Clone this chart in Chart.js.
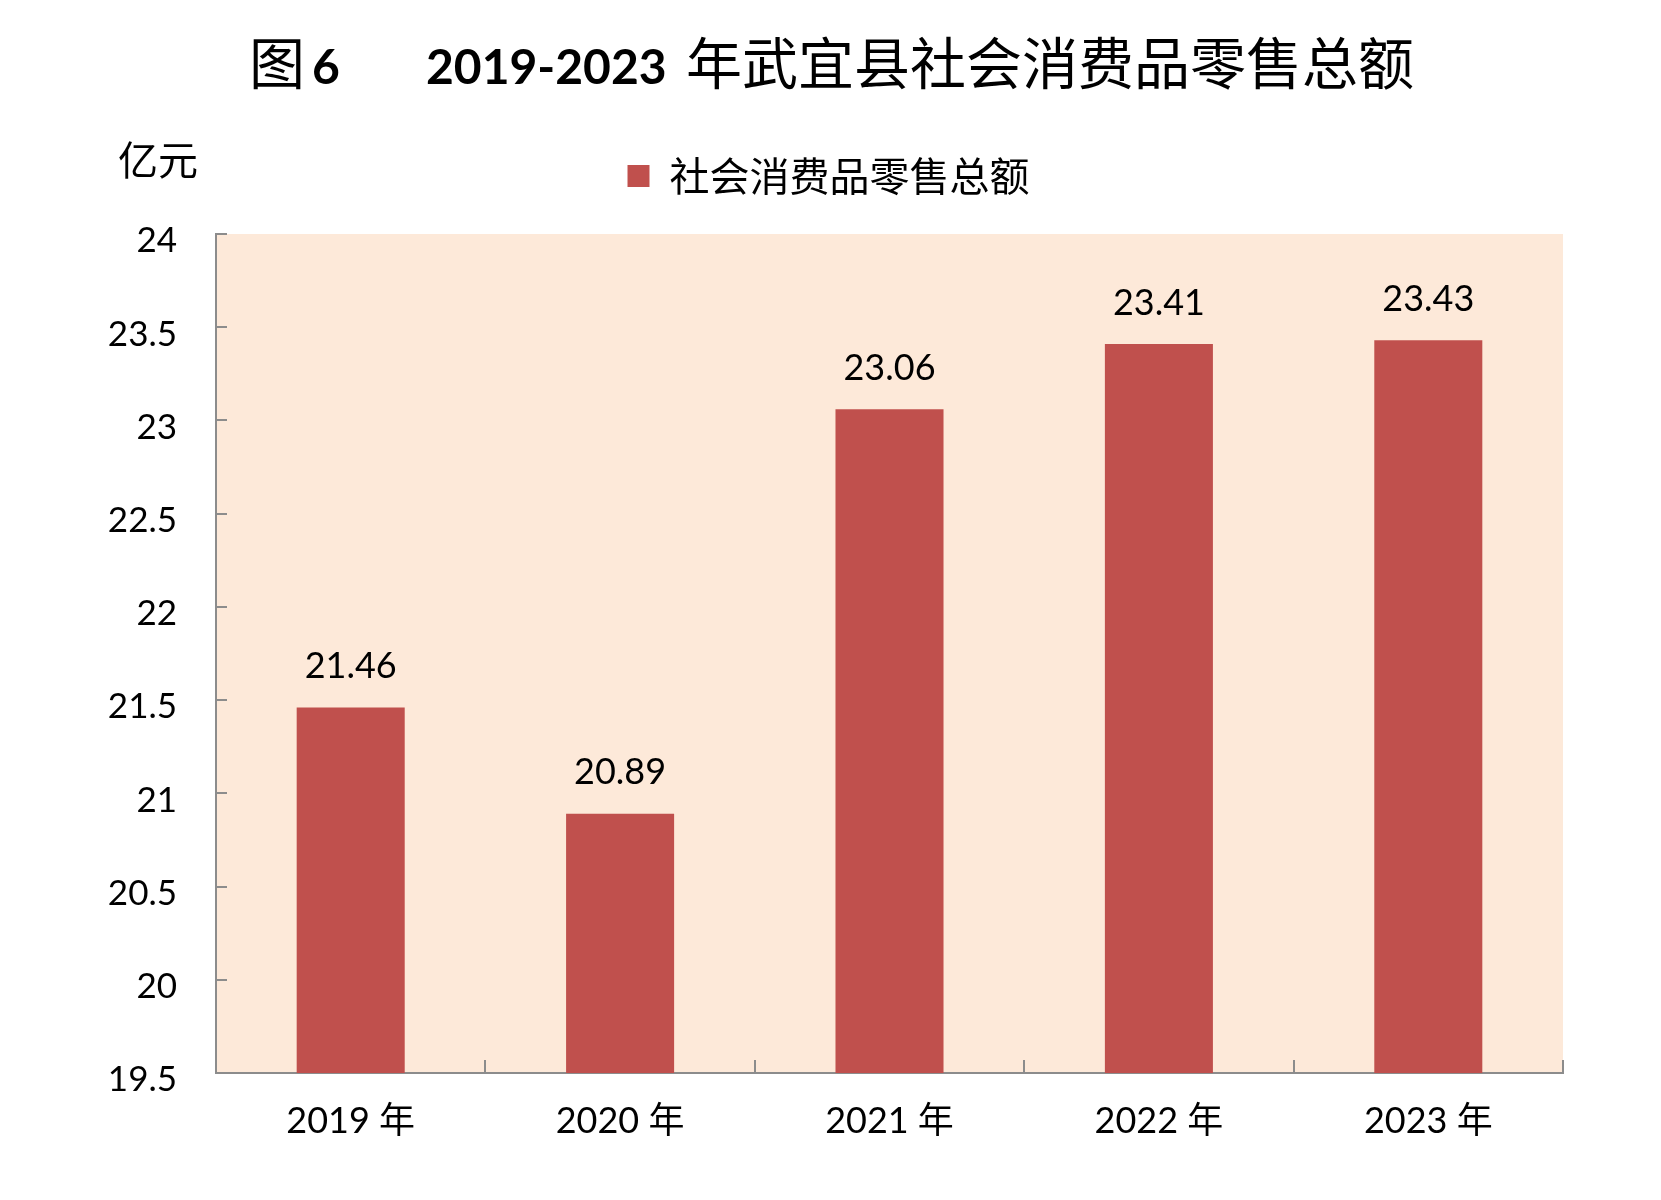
<!DOCTYPE html>
<html lang="zh-CN">
<head>
<meta charset="utf-8">
<title>2019-2023年武宜县社会消费品零售总额</title>
<script src="https://cdn.jsdelivr.net/npm/chart.js@4.4.1/dist/chart.umd.min.js"></script>
<style>
  html, body { margin: 0; padding: 0; background: #ffffff; }
  canvas { display: block; }
</style>
</head>
<body>
<canvas id="retailChart" width="1661" height="1200"></canvas>
<script>
// 数据
const years = ['2019 年', '2020 年', '2021 年', '2022 年', '2023 年'];
const retailSales = [21.46, 20.89, 23.06, 23.41, 23.43];
const yTicks = [19.5, 20, 20.5, 21, 21.5, 22, 22.5, 23, 23.5, 24];
const seriesName = '社会消费品零售总额';
const unitLabel = '亿元';

const FONT = "Lato, 'Noto Sans CJK SC', sans-serif";
const CJK = "'Noto Sans CJK SC', sans-serif";
const AXIS_GRAY = '#8c8c8c';

// 绘图区背景
const plotBackground = {
  id: 'plotBackground',
  beforeDraw(chart) {
    const { ctx, chartArea: a } = chart;
    ctx.save();
    ctx.fillStyle = '#fde9d9';
    ctx.fillRect(a.left, a.top, a.right - a.left, a.bottom - a.top);
    ctx.restore();
  }
};

// 图例下方留白，并把图例挪到画布中间
const legendSpacing = {
  id: 'legendSpacing',
  beforeInit(chart) {
    const fit = chart.legend.fit;
    chart.legend.fit = function () {
      fit.call(this);
      this.height += 28;
    };
  },
  afterLayout(chart) {
    chart.legend.left += 47;
    chart.legend.right += 47;
  }
};

// 数据标签
const valueLabels = {
  id: 'valueLabels',
  afterDatasetsDraw(chart) {
    const { ctx } = chart;
    const meta = chart.getDatasetMeta(0);
    ctx.save();
    ctx.font = '36px ' + FONT;
    ctx.fillStyle = '#000';
    ctx.textAlign = 'center';
    ctx.textBaseline = 'middle';
    meta.data.forEach((bar, i) => {
      ctx.fillText(retailSales[i].toFixed(2), bar.x, bar.y - 41);
    });
    ctx.restore();
  }
};

// 标题和单位
const titleAndUnit = {
  id: 'titleAndUnit',
  afterDraw(chart) {
    const { ctx } = chart;
    ctx.save();
    ctx.fillStyle = '#000';
    ctx.textAlign = 'left';
    ctx.textBaseline = 'alphabetic';
    ctx.font = '56px ' + CJK;
    ctx.fillText('图', 249, 84);
    ctx.font = 'bold 48px ' + FONT;
    ctx.fillText('6', 312, 84);
    ctx.fillText('2019-2023', 426, 84);
    ctx.font = '56px ' + CJK;
    ctx.fillText('年武宜县社会消费品零售总额', 686, 84);

    ctx.font = '40px ' + CJK;
    ctx.fillText(unitLabel, 118, 175);
    ctx.restore();
  }
};

new Chart(document.getElementById('retailChart'), {
  type: 'bar',
  data: {
    labels: years,
    datasets: [{
      label: seriesName,
      data: retailSales,
      backgroundColor: '#c0504d',
      borderWidth: 0,
      barPercentage: 0.401,
      categoryPercentage: 1
    }]
  },
  options: {
    responsive: false,
    devicePixelRatio: 1,
    animation: false,
    layout: {
      padding: { top: 146, right: 98, bottom: 0, left: 0 }
    },
    plugins: {
      legend: {
        position: 'top',
        labels: {
          boxWidth: 22,
          boxHeight: 22,
          padding: 10,
          color: '#000',
          font: { family: CJK, size: 40 }
        }
      },
      title: { display: false },
      tooltip: { enabled: false }
    },
    scales: {
      x: {
        grid: {
          offset: true,
          drawOnChartArea: false,
          drawTicks: true,
          tickLength: -13,
          color: AXIS_GRAY,
          lineWidth: 2
        },
        border: { display: true, color: AXIS_GRAY, width: 2 },
        ticks: {
          color: '#000',
          padding: 40,
          maxRotation: 0,
          font: { family: FONT, size: 36 }
        },
        afterFit(scale) { scale.height = 127; }
      },
      y: {
        min: 19.5,
        max: 24,
        afterBuildTicks(scale) {
          scale.ticks = yTicks.map(v => ({ value: v }));
        },
        grid: {
          drawOnChartArea: false,
          drawTicks: true,
          tickLength: -11,
          color: AXIS_GRAY,
          lineWidth: 2
        },
        border: { display: true, color: AXIS_GRAY, width: 2 },
        ticks: {
          color: '#000',
          padding: 50,
          labelOffset: 7,
          font: { family: FONT, size: 35 },
          callback: value => String(value)
        },
        afterFit(scale) { scale.width = 216; }
      }
    }
  },
  plugins: [plotBackground, legendSpacing, valueLabels, titleAndUnit]
});
</script>
</body>
</html>
